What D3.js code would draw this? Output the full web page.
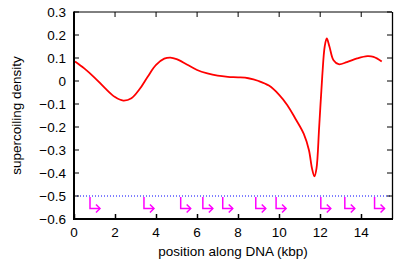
<!DOCTYPE html>
<html><head><meta charset="utf-8">
<script src="https://cdn.jsdelivr.net/npm/d3@7"></script>
<style>body{margin:0;background:#fff}svg{display:block}</style>
</head><body><svg id="c" width="407" height="263"></svg>
<script>
const posX = [0.05,0.5,1.0,1.5,2.0,2.4,2.8,3.2,3.6,4.0,4.4,4.7,5.0,5.5,6.0,6.5,7.0,7.5,8.0,8.5,9.0,9.5,10.0,10.4,10.8,11.2,11.45,11.6,11.72,11.82,11.95,12.1,12.22,12.32,12.45,12.65,12.9,13.3,13.8,14.3,14.6,15.0];
const sigma = [0.085,0.055,0.015,-0.03,-0.07,-0.085,-0.075,-0.035,0.02,0.07,0.097,0.102,0.095,0.072,0.048,0.033,0.023,0.018,0.016,0.012,0.0,-0.02,-0.06,-0.105,-0.165,-0.23,-0.3,-0.38,-0.415,-0.38,-0.2,0.02,0.15,0.185,0.15,0.09,0.073,0.082,0.098,0.108,0.105,0.085];
const promoters = [0.78,3.41,5.2,6.28,7.25,8.86,9.85,12.03,13.2,14.65];
const promoterLevel = -0.5;
const xTicks = [0,2,4,6,8,10,12,14];
const yTicks = [0.3,0.2,0.1,0,-0.1,-0.2,-0.3,-0.4,-0.5,-0.6];

const svg = d3.select("#c");
const L=74,R=392,T=12,B=219;
const x = d3.scaleLinear().domain([0,15.5]).range([L,R]);
const y = d3.scaleLinear().domain([-0.6,0.3]).range([B,T]);
const font = "Liberation Sans, Arial, sans-serif";

// promoter baseline
svg.append("line").attr("x1",L).attr("x2",R).attr("y1",y(promoterLevel)).attr("y2",y(promoterLevel))
  .attr("stroke","#0000ff").attr("stroke-width",1).attr("stroke-dasharray","1,2");

// promoter arrows
const pg = svg.append("g").attr("stroke","#ff00ff").attr("fill","none").attr("stroke-width",1.5);
promoters.forEach(p=>{
  const px=x(p), py=y(promoterLevel);
  pg.append("path").attr("d",`M${px},${py+1}V${py+12.5}H${px+10}`);
  pg.append("path").attr("d",`M${px+6},${py+8.5}L${px+10},${py+12.5}L${px+6},${py+16.5}`);
});

// curve
svg.append("path").datum(posX.map((d,i)=>[d,sigma[i]]))
  .attr("fill","none").attr("stroke","#ff0000").attr("stroke-width",1.8)
  .attr("d",d3.line().x(d=>x(d[0])).y(d=>y(d[1])).curve(d3.curveCatmullRom.alpha(0.5)));

// axes
const ax = svg.append("g").attr("font-family",font).attr("font-size",13.5);
ax.append("line").attr("x1",L).attr("x2",R).attr("y1",T).attr("y2",T).attr("stroke","#000").attr("stroke-width",1);
ax.append("line").attr("x1",R+0.5).attr("x2",R+0.5).attr("y1",T).attr("y2",B).attr("stroke","#000").attr("stroke-width",1.3);
ax.append("line").attr("x1",L).attr("x2",L).attr("y1",T-0.5).attr("y2",B+1).attr("stroke","#000").attr("stroke-width",2);
ax.append("line").attr("x1",L-1).attr("x2",R+1).attr("y1",B).attr("y2",B).attr("stroke","#000").attr("stroke-width",2);
xTicks.forEach(t=>{
  ax.append("line").attr("x1",Math.round(x(t))+0.5).attr("x2",Math.round(x(t))+0.5).attr("y1",B).attr("y2",B-5).attr("stroke","#000").attr("stroke-width",1.5);
  ax.append("line").attr("x1",x(t)).attr("x2",x(t)).attr("y1",T).attr("y2",T+5).attr("stroke","#000");
  ax.append("text").attr("x",x(t)).attr("y",B+18).attr("text-anchor","middle").text(d3.format("")(t));
});
yTicks.forEach(t=>{
  ax.append("line").attr("x1",L).attr("x2",L+5).attr("y1",y(t)).attr("y2",y(t)).attr("stroke","#000");
  ax.append("line").attr("x1",R).attr("x2",R-5).attr("y1",y(t)).attr("y2",y(t)).attr("stroke","#000");
  ax.append("text").attr("x",L-8).attr("y",y(t)+4.5).attr("text-anchor","end").text(d3.format("")(+t.toFixed(1)));
});
ax.append("text").attr("x",(L+R)/2).attr("y",256).attr("text-anchor","middle").text("position along DNA (kbp)");
ax.append("text").attr("transform",`translate(21,${(T+B)/2}) rotate(-90)`).attr("text-anchor","middle").text("supercoiling density");
</script></body></html>
